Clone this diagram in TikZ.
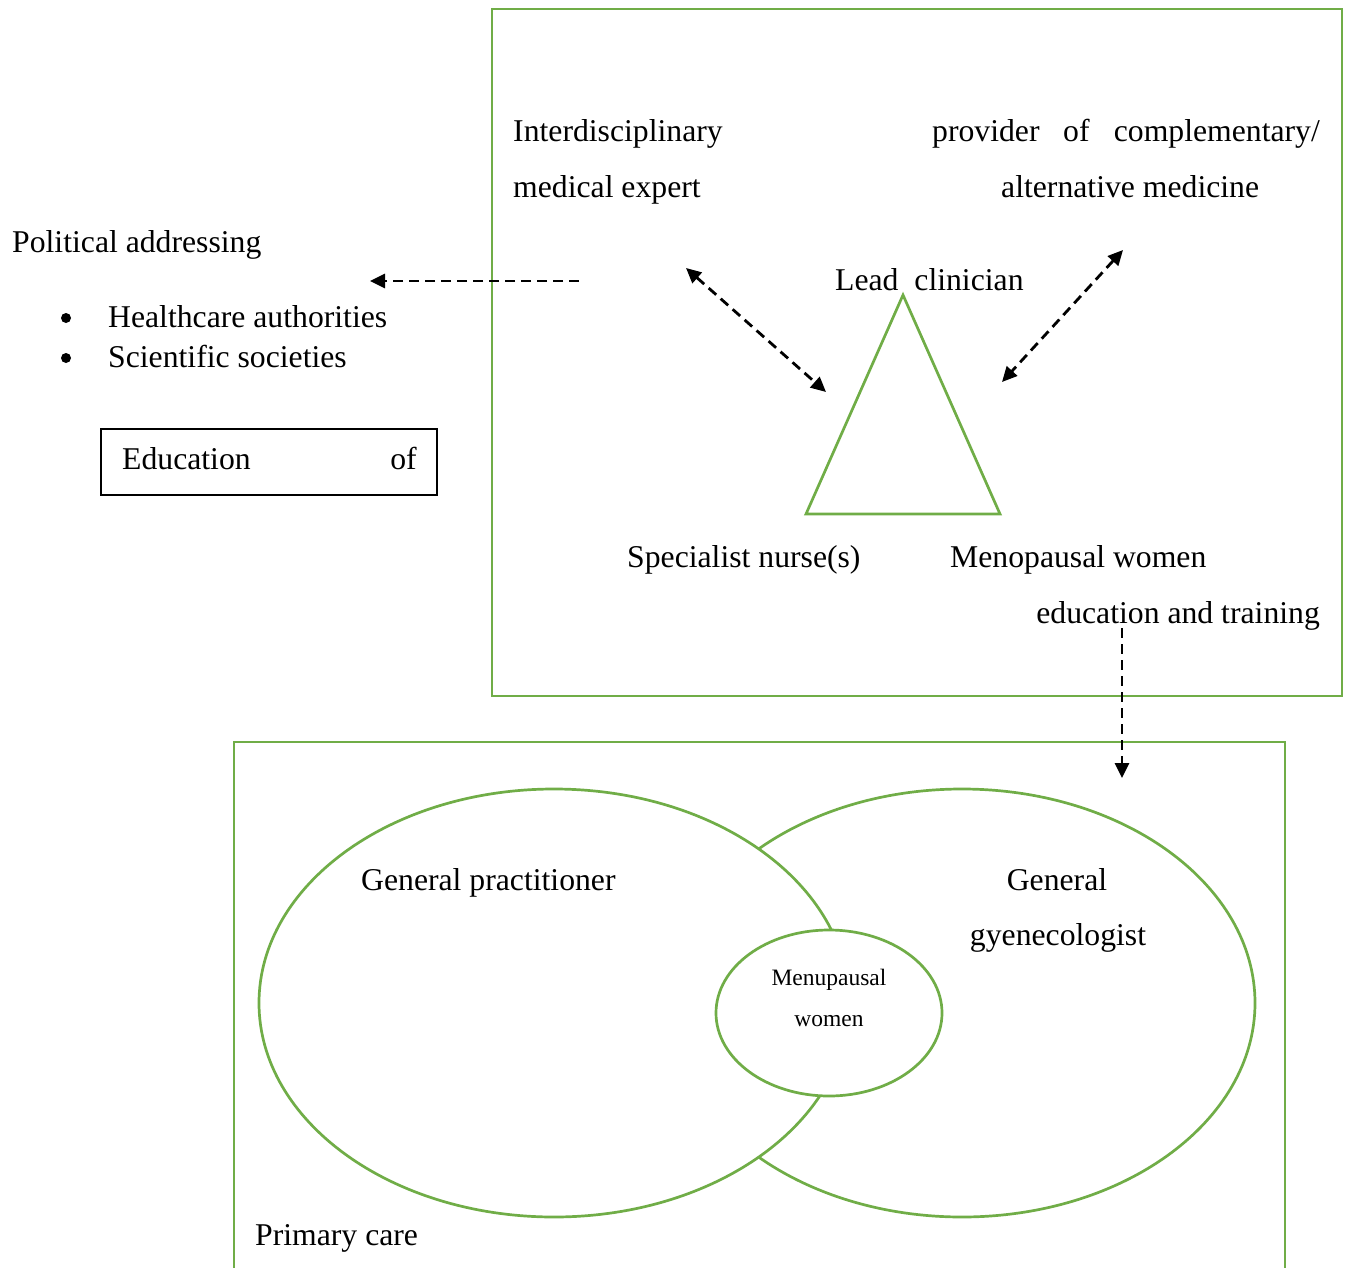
\documentclass[tikz,border=0pt]{standalone}
\usepackage{fontspec}
\setmainfont{Liberation Serif}
\usetikzlibrary{arrows.meta}
\definecolor{grn}{HTML}{70AD47}
\tikzset{
  txt/.style={inner sep=0pt, anchor=base west, font=\fontsize{31.7}{38}\selectfont},
  txtc/.style={inner sep=0pt, anchor=base, font=\fontsize{31.7}{38}\selectfont},
  small/.style={inner sep=0pt, anchor=base, font=\fontsize{23.5}{28}\selectfont},
  gline/.style={draw=grn, line width=2.7pt},
  darr/.style={line width=2.8pt, dash pattern=on 10pt off 6pt, -{Triangle[length=15pt,width=14pt]}},
  ddarr/.style={line width=2.8pt, dash pattern=on 10pt off 6pt, {Triangle[length=15pt,width=14pt]}-{Triangle[length=15pt,width=14pt]}},
}
\begin{document}
\begin{tikzpicture}[x=1pt,y=-1pt]
\useasboundingbox (0,0) rectangle (1346,1268);
% top box
\draw[gline] (492,9) rectangle (1342,696);
% bottom box (open at bottom)
\draw[gline] (234,1270) -- (234,742) -- (1285,742) -- (1285,1270);
% ellipses
\draw[gline, fill=white] (962,1003) ellipse [x radius=293, y radius=214];
\draw[gline, fill=white] (554,1003) ellipse [x radius=295, y radius=214];
\draw[gline, fill=white] (829,1013) ellipse [x radius=113, y radius=83];
% triangle
\coordinate (apex) at (903,295);
\coordinate (bl) at (806,514);
\coordinate (br) at (1000,514);
\draw[gline, line join=miter] (apex) -- (bl) -- (br) -- cycle;
% texts top box
\node[txt] (inter) at (513,142) {Interdisciplinary};
\node[txt] (medexp) at (513,197) {medical expert};
\node[txt] (prov1) at (932,142) {provider};
\node[txt] (prov2) at (1063,142) {of};
\node[txt, anchor=base east] (prov3) at (1320,142) {complementary/};
\node[txt] (altmed) at (1001,197) {alternative medicine};
\node[txt] (lead) at (835,290) {Lead\ \ clinician};
\node[txt] (nurse) at (627,567) {Specialist nurse(s)};
\node[txt] (menow) at (950,567) {Menopausal women};
\node[txt, anchor=base east] (edutr) at (1320,623) {education and training};
% left texts
\node[txt] (pol) at (12,252) {Political addressing};
\node[txt] (hc) at (108,327) {Healthcare authorities};
\node[txt] (sci) at (108,367) {Scientific societies};
\fill (66,318) circle (5pt);
\fill (66,358) circle (5pt);
\node[draw, line width=1.8pt, minimum width=336pt, minimum height=66pt, inner sep=0pt] (edubox) at (269,462) {};
\node[txt] (edu) at (122,469) {Education};
\node[txt, anchor=base east] (eduof) at (417,469) {of};
% bottom texts
\node[txt] (gp) at (361,890) {General practitioner};
\node[txtc] (gg1) at (1057,890) {General};
\node[txtc] (gg2) at (1058,945) {gyenecologist};
\node[small] (mw1) at (829,985) {Menupausal};
\node[small] (mw2) at (829,1026) {women};
\node[txt] (pc) at (255,1245) {Primary care};
% arrows
\coordinate (la1) at (579,281);
\coordinate (la2) at (370,281);
\draw[darr] (la1) -- (la2);
\coordinate (a1s) at (686,268);
\coordinate (a1e) at (826,392);
\draw[ddarr] (a1s) -- (a1e);
\coordinate (a2s) at (1123,250);
\coordinate (a2e) at (1002,382);
\draw[ddarr] (a2s) -- (a2e);
\coordinate (vs) at (1122,628);
\coordinate (ve) at (1122,778);
\draw[darr] (vs) -- (ve);
\end{tikzpicture}
\end{document}
